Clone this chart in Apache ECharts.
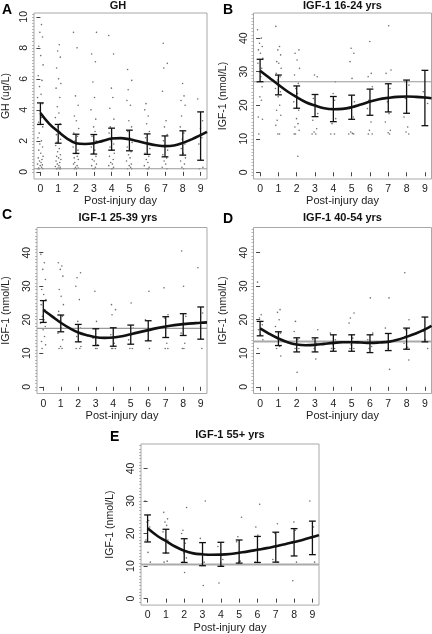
<!DOCTYPE html>
<html><head><meta charset="utf-8">
<script src="https://cdn.jsdelivr.net/npm/echarts@6/dist/echarts.min.js"></script>
<style>html,body{margin:0;padding:0;background:#fff}#c{width:432px;height:634px}</style>
</head><body><div id="c"></div>
<script>
// ---------- data ----------
const DAYS = [0,1,2,3,4,5,6,7,8,9];
const X_TICKS = [0,1,2,3,4,5,6,7,8,9];
const CURVE_X = [0,0.5,1,1.5,2,2.5,3,3.5,4,4.5,5,5.5,6,6.5,7,7.5,8,8.5,9,9.36];
const JITTER = [-0.14,0.06,-0.03,0.12,-0.09,0.02,0.15,-0.12,0.09,-0.05,0.04,-0.16,0.11,-0.01,0.07,-0.1,0.13,-0.07];

const TITLES = ['GH','IGF-1 16-24 yrs','IGF-1 25-39 yrs','IGF-1 40-54 yrs','IGF-1 55+ yrs'];
const LETTERS = ['A','B','C','D','E'];
const Y_NAMES = ['GH (ug/L)','IGF-1 (nmol/L)','IGF-1 (nmol/L)','IGF-1 (nmol/L)','IGF-1 (nmol/L)'];
const GH_TICKS = [0,2,4,6,8,10];
const IGF_TICKS = [0,10,20,30,40];
const REFS = [0.2, 27.0, 17.4, 13.5, 10.5];

const A_curve = [3.8,3.1,2.6,2.15,1.85,1.8,1.85,2.0,2.15,2.18,2.1,1.97,1.83,1.72,1.66,1.7,1.87,2.1,2.37,2.58];
const B_curve = [30.3,28.2,26.1,24.1,22.4,20.9,19.9,19.1,18.8,18.9,19.4,20.2,21.1,21.8,22.2,22.5,22.6,22.5,22.3,22.1];
const C_curve = [22.9,21.0,19.1,17.5,16.2,15.4,14.8,14.6,14.7,15.1,15.7,16.3,16.9,17.5,18.0,18.4,18.7,18.9,19.1,19.2];
const D_curve = [17.4,15.8,14.4,13.3,12.6,12.4,12.5,12.8,13.1,13.3,13.3,13.2,13.1,13.2,13.4,14.0,14.9,15.9,17.1,18.2];
const E_curve = [21.6,19.4,17.7,16.0,14.7,13.9,13.6,13.45,13.5,13.7,14.1,14.5,15.0,15.5,16.1,16.7,17.4,18.1,18.9,19.5];

const A_lo = [3.06,1.85,1.19,1.15,1.4,1.36,1.13,0.97,1.08,0.75];
const A_hi = [4.45,3.06,2.43,2.41,2.82,2.69,2.45,2.32,2.65,3.87];
const B_lo = [27.0,23.1,19.1,16.6,15.1,15.8,17.0,18.0,17.6,13.9];
const B_hi = [33.7,29.0,25.75,23.2,22.6,23.0,24.8,26.4,27.5,30.4];
const C_lo = [19.2,16.4,13.4,12.3,12.1,12.7,13.7,14.7,15.3,14.2];
const C_hi = [25.7,21.4,18.6,17.3,17.6,18.4,19.7,20.9,21.8,23.8];
const D_lo = [15.2,12.3,10.4,10.4,10.6,10.6,10.2,10.8,11.2,13.4];
const D_hi = [19.5,16.4,14.6,14.6,15.5,15.5,15.5,15.9,17.5,20.8];
const E_lo = [17.4,14.0,11.1,10.1,9.9,10.9,11.1,11.2,13.1,13.5];
const E_hi = [25.7,21.3,18.4,17.2,17.3,18.0,19.1,20.4,21.5,23.8];

// individual observations per day
const A_pts = [
 [10.3,9.5,9.0,8.7,8.1,7.5,6.9,6.2,5.9,5.5,5.0,4.8,4.4,3.9,3.5,3.2,2.9,2.5,2.2,2.0,1.8,1.6,1.4,1.2,1.0,0.9,0.8,0.7,0.6,0.5,0.45,0.4,0.3,0.25,0.2,0.2,0.2],
 [8.2,7.8,7.4,6.7,6.0,5.7,5.4,4.8,4.2,3.8,3.5,3.1,2.9,2.6,2.4,2.1,1.9,1.7,1.5,1.3,1.1,1.0,0.9,0.8,0.7,0.6,0.5,0.4,0.35,0.3,0.25,0.2,0.2,0.2,0.2],
 [9.0,8.0,4.9,4.3,3.6,3.3,2.8,2.5,2.3,2.0,1.8,1.6,1.4,1.2,1.0,0.9,0.8,0.6,0.5,0.4,0.3,0.25,0.2,0.2],
 [9.0,7.6,7.1,5.8,4.8,4.0,3.4,2.9,2.6,2.3,2.0,1.8,1.6,1.4,1.2,1.0,0.8,0.7,0.5,0.4,0.3,0.2,0.2],
 [8.8,7.6,5.4,4.8,4.1,3.4,2.9,2.5,2.2,2.0,1.8,1.6,1.4,1.2,1.0,0.8,0.6,0.5,0.4,0.3,0.2,0.2],
 [6.6,5.9,5.3,4.6,4.3,3.3,2.9,2.6,2.2,1.9,1.6,1.3,1.1,0.9,0.7,0.5,0.4,0.3,0.2,0.2],
 [4.4,4.0,3.6,3.1,2.6,2.2,1.8,1.5,1.2,1.0,0.8,0.6,0.4,0.3,0.2,0.2],
 [8.3,7.0,6.7,5.2,3.3,2.9,2.4,2.0,1.7,1.4,1.1,0.9,0.7,0.5,0.3,0.2],
 [5.7,4.9,4.6,4.3,3.6,2.9,2.5,2.1,1.8,1.5,1.2,0.9,0.7,0.5,0.3,0.2],
 [4.7,3.3,2.8,2.2,1.8,0.3,0.2]
];
const B_pts = [
 [42.5,40,38.5,37.5,36.5,35.5,34,32.5,31,30,28.5,27,25.5,22.5,21.5,16.5,15.8,11.4],
 [43.5,37.5,36.5,35,33,32.5,31,29.5,28.5,27.5,26,25,24,22.5,20,18.5,17,15.5,14,11.4,11.4],
 [36.5,35.5,33.5,31,29,26.5,25,23.5,21,18.5,16,14.5,13.5,12.5,11.4,11.4,4.8],
 [29,28.5,22,20,17.5,15.5,13,12,11.4,11.4],
 [27,23.5,21.5,19,16,14.5,11.4,11.4],
 [37,35.5,33,28,21,19,16.5,12,11.6,11.4,11.4],
 [39,29.5,28.5,25.5,21.5,19,15,12.5,11.4,11.4],
 [43.7,30.5,29.5,25,21,17.5,15,12.5,11.8,11.4],
 [27,26,22,16.5,13.5,12,11.4],
 [24,22,20.5]
];
const C_pts = [
 [39.5,37,35,32,29,27.5,26,24.5,23,21,20,19,18,17,15,13.5,12.5,11.4],
 [37,36,35,33,29,27,24.5,22.5,21,19.5,17.5,16,14,12,11.4,11.4],
 [34,32.5,30,26,19.5,17.5,15,13.5,12,11.4,11.4],
 [28.5,19.5,14.5,12.5,11.4,11.4],
 [24.5,23,21.5,15.5,13,11.4,11.4,11.4],
 [25,17.5,14,11.4,11.4],
 [28.5,20,17,14,11.4],
 [29.5,21.5,20.5,18,13,11.4,11.4],
 [40.5,30,21,16,13,11.4,11.4],
 [35.5,22,18,11.4]
];
const D_pts = [
 [31.2,21.5,20.5,18.5,17,15.5,14,11.4],
 [23,22.2,20,18,16,13.5,12,11.4,9.2],
 [19.5,16.5,14,12.5,11.4,11.4,4.3],
 [17,14,13,11.4,8.3],
 [16,14,12.5,11.4,11.4],
 [22,20.5,19,14.5,12.5,11.4,11.4],
 [26.5,16,14,12,11.4],
 [26.5,17.5,13.5,11.4,5.2],
 [34,20,17,13,11.8,11.4,8],
 [16.5,14,11.4]
];
const E_pts = [
 [30,24,23.5,22,18,14.2,11.2],
 [26.5,24.5,23.5,22.5,20.5,18,14,11.5,11.2],
 [28,21,20,17,14,12.5,11.2,8],
 [30,18.5,11.2,10.5,4],
 [16,12,11,10.2,4.8],
 [25,19,17.5,11.5,11.2],
 [29,22,19.5,15,11.2],
 [23,20,16,12,11.2],
 [23.5,21,17,11.2,5.5],
 [30,22,18.5,11.2]
];

const CURVES = [A_curve,B_curve,C_curve,D_curve,E_curve];
const LOS = [A_lo,B_lo,C_lo,D_lo,E_lo];
const HIS = [A_hi,B_hi,C_hi,D_hi,E_hi];
const PTS = [A_pts,B_pts,C_pts,D_pts,E_pts];

// ---------- layout ----------
const GRIDS = [
 {left:29, top:13, width:178, height:166},
 {left:253.5, top:13, width:178, height:166},
 {left:29, top:227.5, width:178, height:166},
 {left:253.5, top:227.5, width:178, height:166},
 {left:141, top:444, width:178, height:166}
];
const YRANGE = [[-0.46,10.25],[-2,47.5],[-2,47.5],[-2,47.5],[-2,47.5]];
const YNAMEGAP = [22,25,25,25,25];
const LETTER_POS = [[2,10.5],[223,11],[2,216],[223,220],[110,438]];
const TITLE_TOP = [0,0,212,212.5,429.5];
const REF_STYLE = [
 {color:'#999',width:1.2},{color:'#999',width:1.2},{color:'#999',width:1.2},
 {color:'#aaa',width:2.2},{color:'#aaa',width:2}
];
const FONT = 'Liberation Sans, Arial, Helvetica, sans-serif';

const grid=[], xAxis=[], yAxis=[], series=[], title=[], graphic=[];

function range(a,b,s){const r=[];for(let v=a;v<=b+1e-9;v+=s)r.push(+v.toFixed(3));return r;}

for (let i=0;i<5;i++){
  const g = GRIDS[i];
  grid.push(Object.assign({show:true, borderColor:'#a8a8a8', borderWidth:1, backgroundColor:'transparent'}, g));
  xAxis.push({
    type:'value', gridIndex:i, min:-0.36, max:9.36,
    name:'Post-injury day', nameLocation:'middle', nameGap:16,
    nameTextStyle:{fontSize:11, color:'#222', fontFamily:FONT},
    axisLine:{show:false}, splitLine:{show:false},
    axisTick:{show:true, customValues:X_TICKS, length:4, lineStyle:{color:'#444', width:1}},
    axisLabel:{customValues:X_TICKS, fontSize:10.5, color:'#222', margin:5, fontFamily:FONT}
  });
  const ticks = i===0 ? GH_TICKS : IGF_TICKS;
  yAxis.push({
    type:'value', gridIndex:i, min:YRANGE[i][0], max:YRANGE[i][1],
    name:Y_NAMES[i], nameLocation:'middle', nameGap:YNAMEGAP[i], nameRotate:90,
    nameTextStyle:{fontSize:10.5, color:'#222', fontFamily:FONT},
    axisLine:{show:false}, splitLine:{show:false},
    axisTick:{show:true, customValues:ticks, length:4, lineStyle:{color:'#444', width:1}},
    axisLabel:{customValues:ticks, rotate:90, fontSize:10.5, color:'#222', margin:4, fontFamily:FONT}
  });
  // fine rug-like ticks along left edge
  yAxis.push({
    type:'value', gridIndex:i, min:YRANGE[i][0], max:YRANGE[i][1], position:'left',
    axisLine:{show:false}, splitLine:{show:false}, axisLabel:{show:false},
    axisTick:{show:true, customValues: i===0 ? range(0,10.2,0.2) : range(-1,47,1), length:2, lineStyle:{color:'#999', width:0.7}}
  });
  const yIdx = i*2;

  // points
  const pts=[]; let k=0;
  PTS[i].forEach((vals,d)=>{ vals.forEach(v=>{ pts.push([DAYS[d]+JITTER[k%JITTER.length], v]); k++; }); });
  series.push({type:'scatter', xAxisIndex:i, yAxisIndex:yIdx, data:pts, symbolSize:1.6, silent:true,
    itemStyle:{color:'#555', opacity:0.85}, z:2});

  // reference line
  series.push({type:'line', xAxisIndex:i, yAxisIndex:yIdx, data:[[-0.36,REFS[i]],[9.36,REFS[i]]],
    showSymbol:false, silent:true, lineStyle:{color:REF_STYLE[i].color, width:REF_STYLE[i].width}, z:3});

  // error bars
  const eb = DAYS.map((d,j)=>[d, LOS[i][j], HIS[i][j]]);
  series.push({type:'custom', xAxisIndex:i, yAxisIndex:yIdx, data:eb, silent:true, z:4,
    encode:{x:0, y:[1,2]},
    renderItem:function(params, api){
      const x=api.value(0), lo=api.value(1), hi=api.value(2);
      const p1=api.coord([x,lo]), p2=api.coord([x,hi]); const w=3.4;
      const st={stroke:'#111', lineWidth:1.3};
      return {type:'group', children:[
        {type:'line', shape:{x1:p1[0],y1:p1[1],x2:p2[0],y2:p2[1]}, style:st},
        {type:'line', shape:{x1:p1[0]-w,y1:p1[1],x2:p1[0]+w,y2:p1[1]}, style:st},
        {type:'line', shape:{x1:p2[0]-w,y1:p2[1],x2:p2[0]+w,y2:p2[1]}, style:st}
      ]};
    }});

  // smooth curve
  series.push({type:'line', xAxisIndex:i, yAxisIndex:yIdx, data:CURVE_X.map((x,j)=>[x, CURVES[i][j]]),
    smooth:0.4, showSymbol:false, silent:true, lineStyle:{color:'#111', width:2.6}, z:5});

  title.push({text:TITLES[i], left:g.left+g.width/2, top:TITLE_TOP[i], textAlign:'center', padding:0,
    textStyle:{fontSize:11, fontWeight:'bold', color:'#111', fontFamily:FONT}});
  graphic.push({type:'text', left:LETTER_POS[i][0], top:LETTER_POS[i][1]-7.5,
    style:{text:LETTERS[i], font:'bold 14px '+FONT, fill:'#000'}});
}

const chart = echarts.init(document.getElementById('c'), null, {renderer:'canvas'});
chart.setOption({animation:false, backgroundColor:'#fff', title, grid, xAxis, yAxis, series, graphic});
</script></body></html>
